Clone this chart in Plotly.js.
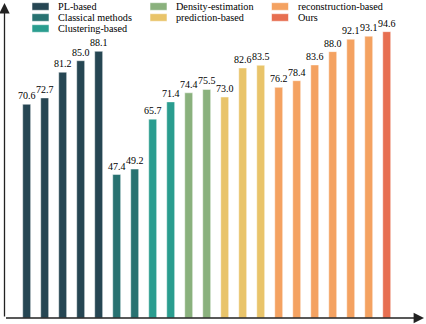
<!DOCTYPE html>
<html>
<head>
<meta charset="utf-8">
<script src="https://cdn.plot.ly/plotly-3.0.1.min.js"></script>
<style>
  html, body { margin: 0; padding: 0; background: #fff; }
  #plot { width: 426px; height: 324px; }
</style>
</head>
<body>
<div id="plot"></div>
<script>
// group names (legend order) and their bar values
const groupNames = [
  "PL-based",
  "Classical methods",
  "Clustering-based",
  "Density-estimation",
  "prediction-based",
  "reconstruction-based",
  "Ours"
];
const plBased = [70.6, 72.7, 81.2, 85.0, 88.1];
const classical = [47.4, 49.2];
const clustering = [65.7, 71.4];
const density = [74.4, 75.5];
const prediction = [73.0, 82.6, 83.5];
const reconstruction = [76.2, 78.4, 83.6, 88.0, 92.1, 93.1];
const ours = [94.6];

const groupValues = [plBased, classical, clustering, density, prediction, reconstruction, ours];
const groupColors = ["#264653", "#287271", "#2a9d8f", "#8ab17d", "#e9c46a", "#f4a261", "#e76f51"];

const plot = document.getElementById("plot");
const serif = "'Liberation Serif', 'Times New Roman', serif";

// plot area in pixels: x 4..424, y 3..318
const L = 4, R = 424, T = 3, B = 318;
function px(p) { return (p - L) / (R - L); }
function py(p) { return (B - p) / (B - T); }

const traces = [];
let idx = 0;
groupValues.forEach((vals, g) => {
  const xs = vals.map((v, k) => idx + k);
  idx += vals.length;
  traces.push({
    type: "bar",
    name: groupNames[g],
    x: xs,
    y: vals,
    width: 0.44,
    marker: {
      color: groupColors[g],
      line: { color: "rgba(255,255,255,0.45)", width: 1 }
    },
    texttemplate: "%{y:.1f}",
    textposition: "outside",
    constraintext: "none",
    cliponaxis: false,
    textfont: { family: serif, size: 10, color: "#000" },
    hoverinfo: "skip"
  });
});

// hand-placed legend (3 columns) : swatch left edge and first row position
const legendCols = [
  { x: 32, items: [0, 1, 2] },
  { x: 150, items: [3, 4] },
  { x: 271.5, items: [5, 6] }
];
const rowY = [6.5, 17.5, 28.5];

const shapes = [];
const annotations = [];
legendCols.forEach(col => {
  col.items.forEach((g, r) => {
    const cy = rowY[r];
    shapes.push({
      type: "rect", xref: "paper", yref: "paper",
      x0: px(col.x), x1: px(col.x + 17),
      y0: py(cy + 3.8), y1: py(cy - 3.8),
      fillcolor: groupColors[g],
      line: { color: "rgba(255,255,255,0.55)", width: 1 }
    });
    annotations.push({
      xref: "paper", yref: "paper",
      x: px(col.x + 24), y: py(cy),
      xanchor: "left", yanchor: "middle",
      text: groupNames[g], showarrow: false,
      font: { family: serif, size: 10.2, color: "#000" }
    });
  });
});

// axis arrows
annotations.push({
  xref: "paper", yref: "paper", x: px(R), y: py(B),
  axref: "pixel", ayref: "pixel", ax: -(R - L - 0.5), ay: 0,
  text: "", showarrow: true, arrowhead: 2, arrowsize: 1.6, arrowwidth: 1.3, arrowcolor: "#222"
});
annotations.push({
  xref: "paper", yref: "paper", x: px(L + 0.5), y: py(T),
  axref: "pixel", ayref: "pixel", ax: 0, ay: (B - T),
  text: "", showarrow: true, arrowhead: 2, arrowsize: 1.6, arrowwidth: 1.3, arrowcolor: "#222"
});

Plotly.newPlot(plot, traces, {
  width: 426,
  height: 324,
  margin: { l: L, r: 426 - R, t: T, b: 324 - B, pad: 0 },
  paper_bgcolor: "#fff",
  plot_bgcolor: "#fff",
  showlegend: false,
  barmode: "overlay",
  font: { family: serif, size: 10, color: "#000" },
  xaxis: {
    range: [-1.26, 22.07],
    showgrid: false, zeroline: false, showline: false,
    showticklabels: false, ticks: "", fixedrange: true
  },
  yaxis: {
    range: [0, 104.07],
    showgrid: false, zeroline: false, showline: false,
    showticklabels: false, ticks: "", fixedrange: true
  },
  shapes: shapes,
  annotations: annotations
}, { displayModeBar: false, staticPlot: true });
</script>
</body>
</html>
